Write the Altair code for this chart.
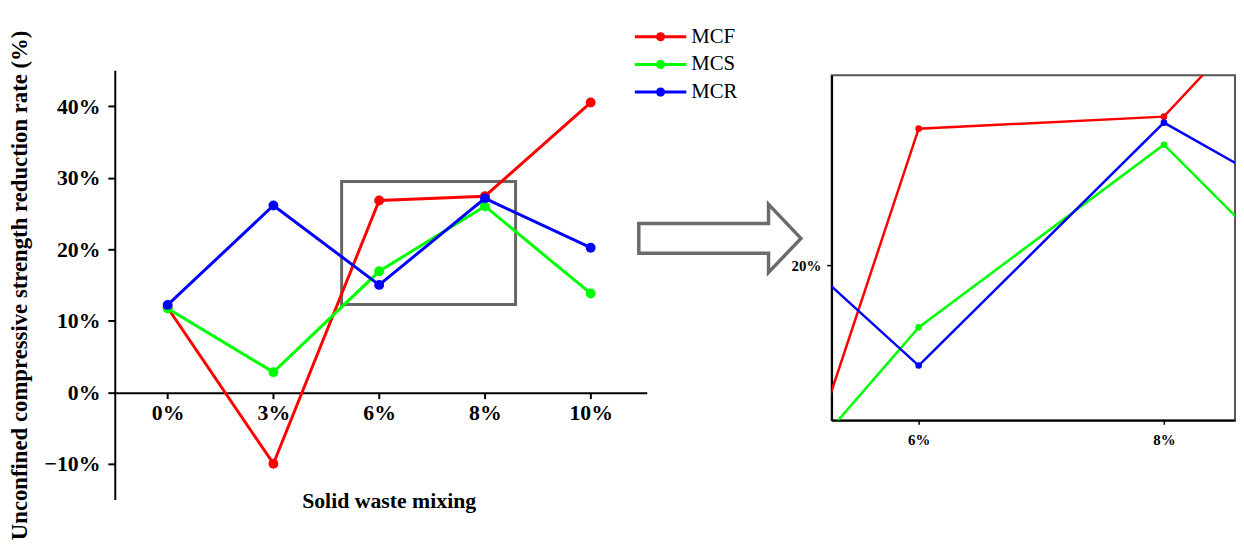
import altair as alt
import pandas as pd

# ---------------- data ----------------
categories = ["0%", "3%", "6%", "8%", "10%"]
series_names = ["MCF", "MCS", "MCR"]
mcf = [11.8, -10.0, 26.8, 27.4, 40.5]
mcs = [11.7, 2.8, 16.9, 26.0, 13.8]
mcr = [12.2, 26.1, 15.0, 27.1, 20.2]
colors = ["#ff0000", "#00ff00", "#0000ff"]
y_ticks = [-10, 0, 10, 20, 30, 40]
zoom_x = [1.645, 3.29]      # zoom window (category-index units)
zoom_y = [12.27, 29.46]     # zoom window (%)

rows = []
for name, vals in zip(series_names, [mcf, mcs, mcr]):
    for i, (c, v) in enumerate(zip(categories, vals)):
        rows.append({"series": name, "cat": c, "idx": i, "value": v})
df = pd.DataFrame(rows)
box_df = pd.DataFrame({"x1": [zoom_x[0]], "x2": [zoom_x[1]],
                       "y1": [zoom_y[0]], "y2": [zoom_y[1]]})
one = pd.DataFrame({"a": [0]})

FONT = "Liberation Serif"
label_expr = "[" + ",".join("'%s'" % c for c in categories) + "][datum.value]"

# ---------------- main panel ----------------
xs_main = alt.Scale(domain=[-0.5, 4.53], nice=False, zero=False)
ys_main = alt.Scale(domain=[-15, 45], nice=False, zero=False)

x_axis_main = alt.Axis(values=list(range(len(categories))), labelExpr=label_expr,
                       offset=-108, title="Solid waste mixing", grid=False,
                       domainColor="black", domainWidth=2, tickColor="black",
                       tickWidth=2, tickSize=6, labelFont=FONT, labelFontSize=22,
                       labelFontWeight="bold", labelColor="black", labelPadding=4,
                       titleFont=FONT, titleFontSize=22, titleFontWeight="bold",
                       titleColor="black", titlePadding=68, titleX=277)
y_axis_main = alt.Axis(values=y_ticks, labelExpr="format(datum.value/100, '.0%')",
                       title="Unconfined compressive strength reduction rate (%)",
                       grid=False, domainColor="black", domainWidth=2,
                       tickColor="black", tickWidth=2, tickSize=7,
                       labelFont=FONT, labelFontSize=22, labelFontWeight="bold",
                       labelColor="black", labelPadding=8,
                       titleFont=FONT, titleFontSize=23, titleFontWeight="bold",
                       titleColor="black", titlePadding=13, titleLimit=1000)

layers = []
box = alt.Chart(box_df).mark_rect(fillOpacity=0, stroke="#666666", strokeWidth=3).encode(
    x=alt.X("x1:Q", scale=xs_main, axis=x_axis_main),
    x2="x2:Q",
    y=alt.Y("y1:Q", scale=ys_main, axis=y_axis_main),
    y2="y2:Q",
)
layers.append(box)
for name, color in zip(series_names, colors):
    base = alt.Chart(df[df.series == name]).encode(
        x=alt.X("idx:Q", scale=xs_main, axis=x_axis_main),
        y=alt.Y("value:Q", scale=ys_main, axis=y_axis_main),
    )
    layers.append(base.mark_line(color=color, strokeWidth=3))
    layers.append(base.mark_circle(color=color, size=100, opacity=1))

# legend (drawn manually)
for i, (name, color) in enumerate(zip(series_names, colors)):
    yy = -34 + 28 * i
    layers.append(alt.Chart(one).mark_rule(color=color, strokeWidth=3).encode(
        x=alt.value(526), x2=alt.value(578), y=alt.value(yy)))
    layers.append(alt.Chart(one).mark_circle(color=color, size=85, opacity=1).encode(
        x=alt.value(552), y=alt.value(yy)))
    layers.append(alt.Chart(one).mark_text(text=name, align="left", baseline="middle",
                                           font=FONT, fontSize=21, color="black").encode(
        x=alt.value(583), y=alt.value(yy)))

# hollow block arrow
arrow_path = ("M -1 -0.183 L 0.6 -0.183 L 0.6 -0.42 L 1 0 L 0.6 0.42 "
              "L 0.6 0.183 L -1 0.183 Z")
layers.append(alt.Chart(one).mark_point(shape=arrow_path, size=164 * 164, filled=False,
                                        stroke="#6b6b6b", strokeWidth=3.5, opacity=1,
                                        strokeJoin="miter").encode(
    x=alt.value(612), y=alt.value(170)))

main = alt.layer(*layers).properties(
    width=538, height=434,
    view=alt.ViewBackground(strokeWidth=0))

# ---------------- inset ----------------
xs_in = alt.Scale(domain=zoom_x, nice=False, zero=False)
ys_in = alt.Scale(domain=zoom_y, nice=False, zero=False)
x_axis_in = alt.Axis(values=[2, 3], labelExpr=label_expr, title=None, grid=False,
                     domainColor="black", domainWidth=2, tickColor="black", tickWidth=1.5,
                     tickSize=4, labelFont=FONT, labelFontSize=15, labelFontWeight="bold",
                     labelColor="black", labelPadding=8)
y_axis_in = alt.Axis(values=[20], labelExpr="format(datum.value/100, '.0%')", title=None,
                     grid=False, domainColor="black", domainWidth=2, tickColor="black",
                     tickWidth=1.5, tickSize=5, labelFont=FONT, labelFontSize=15,
                     labelFontWeight="bold", labelColor="black", labelPadding=6)
in_layers = []
for name, color in zip(series_names, colors):
    base = alt.Chart(df[df.series == name]).encode(
        x=alt.X("idx:Q", scale=xs_in, axis=x_axis_in),
        y=alt.Y("value:Q", scale=ys_in, axis=y_axis_in),
    )
    in_layers.append(base.mark_line(color=color, strokeWidth=2.5, clip=True))
    in_layers.append(base.mark_circle(color=color, size=45, opacity=1, clip=True))
inset = alt.layer(*in_layers).properties(
    width=408, height=349,
    view=alt.ViewBackground(stroke="#555555", strokeWidth=2))

spacer = alt.Chart(one).mark_point(opacity=0).encode(
    x=alt.value(0), y=alt.value(0)).properties(
    width=408, height=5, view=alt.ViewBackground(strokeWidth=0))
inset_col = alt.vconcat(spacer, inset, spacing=0, bounds="flush")

chart = alt.hconcat(main, inset_col, spacing=187, bounds="flush").properties(
    padding={"left": 0, "top": 15, "right": 0, "bottom": 0},
    background="white",
).configure_view(strokeWidth=0)

chart.save("out.html", embed_options={"renderer": "svg", "actions": False})
